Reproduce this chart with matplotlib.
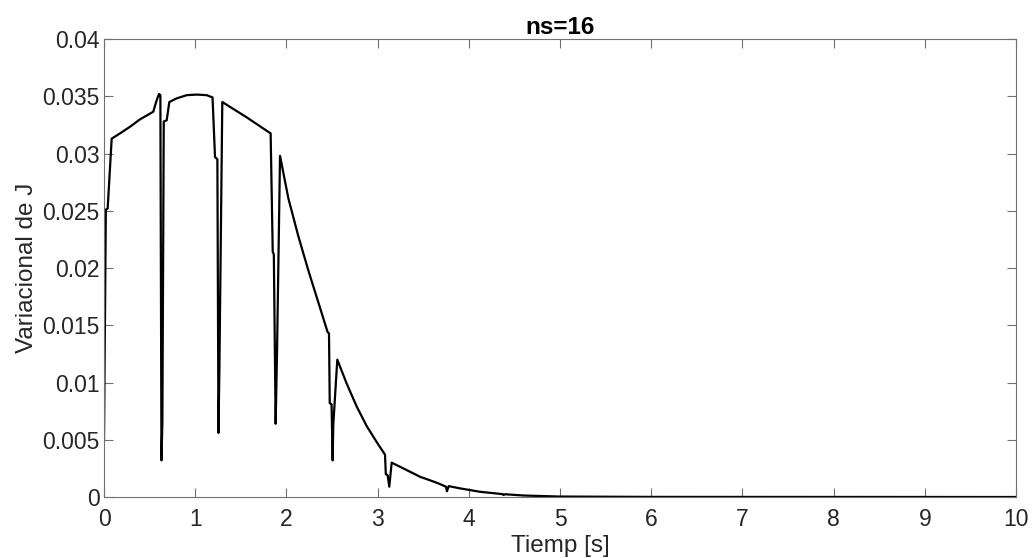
import matplotlib
matplotlib.use('Agg')
import matplotlib.pyplot as plt

plt.rcParams['font.family'] = ['Liberation Sans', 'DejaVu Sans']

# Time [s] and variational of J
t = [0.0, 0.02, 0.04, 0.084, 0.175, 0.285, 0.395, 0.54, 0.578, 0.603, 0.618,
     0.63, 0.64, 0.655, 0.687, 0.716, 0.797, 0.907, 1.016, 1.126, 1.19,
     1.217, 1.243, 1.255, 1.265, 1.297, 1.565, 1.827,
     1.85, 1.862, 1.882, 1.897, 1.93,
     2.021, 2.13, 2.24, 2.35, 2.452,
     2.467, 2.475, 2.495, 2.507, 2.514, 2.558,
     2.661, 2.771, 2.88, 2.99, 3.081,
     3.09, 3.11, 3.128, 3.154,
     3.282, 3.465, 3.648, 3.75, 3.76, 3.78, 3.9, 4.12,
     4.37, 4.38, 4.40, 4.6, 5.0, 6.0, 10.0]
J = [0.0050, 0.0251, 0.0252, 0.0313, 0.03176, 0.03234, 0.03299, 0.03365, 0.03467, 0.0352, 0.0351,
     0.0032, 0.0066, 0.0328, 0.0329, 0.0345, 0.03482, 0.0351, 0.03515, 0.0351, 0.0349,
     0.0297, 0.0295, 0.0056, 0.0111, 0.0345, 0.03316, 0.03176,
     0.0214, 0.0212, 0.0064, 0.0126, 0.0298,
     0.0261, 0.0228, 0.0198, 0.0170, 0.0144,
     0.0143, 0.0082, 0.0081, 0.0032, 0.0063, 0.0120,
     0.0099, 0.0079, 0.0062, 0.0048, 0.0037,
     0.0020, 0.0019, 0.0009, 0.0030,
     0.0025, 0.00177, 0.00125, 0.0009, 0.0005, 0.00095, 0.00076, 0.00046,
     0.00025, 0.00018, 0.00024, 0.00013, 0.00004, 0.00001, 0.0]

fig = plt.figure(figsize=(10.36, 5.58), dpi=100)
ax = fig.add_axes([0.1004, 0.1093, 0.8803, 0.8207])

ax.plot(t, J, color='black', linewidth=1.6)

ax.set_xlim(0, 10)
ax.set_ylim(0, 0.04)
ax.set_xticks(range(0, 11))
ax.set_yticks([0, 0.005, 0.01, 0.015, 0.02, 0.025, 0.03, 0.035, 0.04])
ax.set_yticklabels(['0', '0.005', '0.01', '0.015', '0.02', '0.025', '0.03', '0.035', '0.04'])

for s in ax.spines.values():
    s.set_color('#707070')
    s.set_linewidth(0.8)
ax.tick_params(direction='in', length=6.5, width=0.8, colors='#707070',
               labelcolor='#262626', labelsize=16.5, top=True, right=True, pad=3)
ax.tick_params(axis='x', pad=8)

ax.set_title('ns=16', fontsize=17.5, fontweight='bold', color='black', pad=4)
ax.set_xlabel('Tiemp [s]', fontsize=17.5, color='#262626', labelpad=3)
ax.set_ylabel('Variacional de J', fontsize=17.5, color='#262626', labelpad=3)

fig.savefig('out.png', dpi=100)
